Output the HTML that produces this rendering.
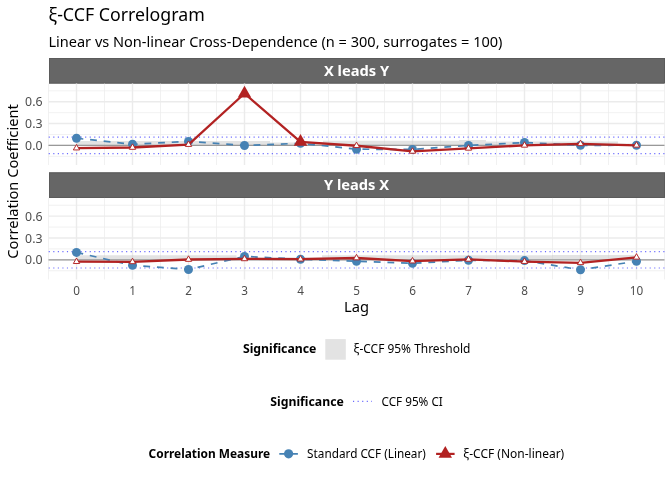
<!DOCTYPE html>
<html><head><meta charset="utf-8"><title>ξ-CCF Correlogram</title>
<style>html,body{margin:0;padding:0;background:#fff;width:672px;height:480px;overflow:hidden}svg{display:block}</style>
</head><body>
<svg width="672" height="480" viewBox="0 0 672 480" font-family="Noto Sans, Liberation Sans, sans-serif">
<rect width="672" height="480" fill="#fff"/>
<text textLength="156.27" lengthAdjust="spacingAndGlyphs" id="t_title" x="48.46" y="20.6" font-size="17.6" fill="#000">ξ-CCF Correlogram</text>
<text textLength="454.07" lengthAdjust="spacingAndGlyphs" id="t_sub" x="48.41" y="46.8" font-size="14.67" fill="#000">Linear vs Non-linear Cross-Dependence (n = 300, surrogates = 100)</text>
<rect x="49" y="58.0" width="616" height="25.55" fill="#666666"/>
<rect x="49.5" y="58.5" width="615" height="24.55" fill="none" stroke="#5B5B5B" stroke-width="1"/>
<text x="356.5" y="75.97500000000001" font-size="14.67" font-weight="bold" fill="#fff" text-anchor="middle" textLength="65.14" lengthAdjust="spacingAndGlyphs">X leads Y</text>
<path d="M48.5 156.33H664.5 M48.5 134.49H664.5 M48.5 112.66H664.5 M48.5 90.83H664.5 M48.50 83.55V165.0 M104.50 83.55V165.0 M160.50 83.55V165.0 M216.50 83.55V165.0 M272.50 83.55V165.0 M328.50 83.55V165.0 M384.50 83.55V165.0 M440.50 83.55V165.0 M496.50 83.55V165.0 M552.50 83.55V165.0 M608.50 83.55V165.0 M664.50 83.55V165.0" stroke="#EBEBEB" stroke-width="0.71" fill="none"/>
<path d="M48.5 145.41H664.5 M48.5 123.58H664.5 M48.5 101.75H664.5 M76.50 83.55V165.0 M132.50 83.55V165.0 M188.50 83.55V165.0 M244.50 83.55V165.0 M300.50 83.55V165.0 M356.50 83.55V165.0 M412.50 83.55V165.0 M468.50 83.55V165.0 M524.50 83.55V165.0 M580.50 83.55V165.0 M636.50 83.55V165.0" stroke="#EBEBEB" stroke-width="1.42" fill="none"/>
<polygon points="76.50,140.90 270.00,140.90 270.00,142.60 323.00,142.60 323.00,140.80 459.00,140.80 459.00,140.00 486.00,140.00 486.00,141.40 618.00,141.40 618.00,143.50 636.50,143.50 636.5,145.41 76.5,145.41" fill="#BEBEBE" fill-opacity="0.43"/>
<path d="M48.5 145.41H664.5" stroke="#999999" stroke-width="1.2"/>
<path d="M48.5 137.17H664.5" stroke="#5050FF" stroke-opacity="0.85" stroke-width="1.14" stroke-dasharray="1.138 3.4146" stroke-dashoffset="-0.2"/>
<path d="M48.5 153.65H664.5" stroke="#5050FF" stroke-opacity="0.85" stroke-width="1.14" stroke-dasharray="1.138 3.4146" stroke-dashoffset="-0.2"/>
<polyline points="76.50,138.25 132.50,144.30 188.50,141.40 244.50,145.45 300.50,143.25 356.50,149.20 412.50,149.40 468.50,145.50 524.50,142.50 580.50,145.30 636.50,145.25" fill="none" stroke="#4682B4" stroke-width="1.71" stroke-dasharray="6.83 6.83"/>
<circle cx="76.50" cy="138.25" r="4.5" fill="#4682B4"/>
<circle cx="132.50" cy="144.30" r="4.5" fill="#4682B4"/>
<circle cx="188.50" cy="141.40" r="4.5" fill="#4682B4"/>
<circle cx="244.50" cy="145.45" r="4.5" fill="#4682B4"/>
<circle cx="300.50" cy="143.25" r="4.5" fill="#4682B4"/>
<circle cx="356.50" cy="149.20" r="4.5" fill="#4682B4"/>
<circle cx="412.50" cy="149.40" r="4.5" fill="#4682B4"/>
<circle cx="468.50" cy="145.50" r="4.5" fill="#4682B4"/>
<circle cx="524.50" cy="142.50" r="4.5" fill="#4682B4"/>
<circle cx="580.50" cy="145.30" r="4.5" fill="#4682B4"/>
<circle cx="636.50" cy="145.25" r="4.5" fill="#4682B4"/>
<polyline points="76.50,148.10 132.50,147.50 188.50,144.60 244.50,93.50 300.50,141.90 356.50,145.75 412.50,151.40 468.50,148.35 524.50,145.35 580.50,143.80 636.50,145.30" fill="none" stroke="#B22222" stroke-width="2.3" stroke-linejoin="round"/>
<polygon points="76.50,144.45 79.66,149.93 73.34,149.93" fill="#fff" stroke="#B22222" stroke-width="0.95" stroke-linejoin="miter"/>
<polygon points="132.50,143.85 135.66,149.33 129.34,149.33" fill="#fff" stroke="#B22222" stroke-width="0.95" stroke-linejoin="miter"/>
<polygon points="188.50,140.95 191.66,146.43 185.34,146.43" fill="#fff" stroke="#B22222" stroke-width="0.95" stroke-linejoin="miter"/>
<polygon points="244.50,85.72 251.23,97.39 237.77,97.39" fill="#B22222"/>
<polygon points="300.50,134.12 307.23,145.79 293.77,145.79" fill="#B22222"/>
<polygon points="356.50,142.10 359.66,147.58 353.34,147.58" fill="#fff" stroke="#B22222" stroke-width="0.95" stroke-linejoin="miter"/>
<polygon points="412.50,147.75 415.66,153.23 409.34,153.23" fill="#fff" stroke="#B22222" stroke-width="0.95" stroke-linejoin="miter"/>
<polygon points="468.50,144.70 471.66,150.18 465.34,150.18" fill="#fff" stroke="#B22222" stroke-width="0.95" stroke-linejoin="miter"/>
<polygon points="524.50,141.70 527.66,147.18 521.34,147.18" fill="#fff" stroke="#B22222" stroke-width="0.95" stroke-linejoin="miter"/>
<polygon points="580.50,140.15 583.66,145.63 577.34,145.63" fill="#fff" stroke="#B22222" stroke-width="0.95" stroke-linejoin="miter"/>
<polygon points="636.50,141.65 639.66,147.13 633.34,147.13" fill="#fff" stroke="#B22222" stroke-width="0.95" stroke-linejoin="miter"/>
<text x="42.5" y="150.01" font-size="11.73" fill="#4D4D4D" text-anchor="end" textLength="17.4" lengthAdjust="spacingAndGlyphs">0.0</text>
<text x="42.5" y="128.18" font-size="11.73" fill="#4D4D4D" text-anchor="end" textLength="17.4" lengthAdjust="spacingAndGlyphs">0.3</text>
<text x="42.5" y="106.35" font-size="11.73" fill="#4D4D4D" text-anchor="end" textLength="17.4" lengthAdjust="spacingAndGlyphs">0.6</text>
<rect x="49" y="172.4" width="616" height="25.55" fill="#666666"/>
<rect x="49.5" y="172.9" width="615" height="24.55" fill="none" stroke="#5B5B5B" stroke-width="1"/>
<text x="356.5" y="190.375" font-size="14.67" font-weight="bold" fill="#fff" text-anchor="middle" textLength="65.14" lengthAdjust="spacingAndGlyphs">Y leads X</text>
<path d="M48.5 270.73H664.5 M48.5 248.89H664.5 M48.5 227.06H664.5 M48.5 205.23H664.5 M48.50 197.95000000000002V279.40000000000003 M104.50 197.95000000000002V279.40000000000003 M160.50 197.95000000000002V279.40000000000003 M216.50 197.95000000000002V279.40000000000003 M272.50 197.95000000000002V279.40000000000003 M328.50 197.95000000000002V279.40000000000003 M384.50 197.95000000000002V279.40000000000003 M440.50 197.95000000000002V279.40000000000003 M496.50 197.95000000000002V279.40000000000003 M552.50 197.95000000000002V279.40000000000003 M608.50 197.95000000000002V279.40000000000003 M664.50 197.95000000000002V279.40000000000003" stroke="#EBEBEB" stroke-width="0.71" fill="none"/>
<path d="M48.5 259.81H664.5 M48.5 237.98H664.5 M48.5 216.15H664.5 M76.50 197.95000000000002V279.40000000000003 M132.50 197.95000000000002V279.40000000000003 M188.50 197.95000000000002V279.40000000000003 M244.50 197.95000000000002V279.40000000000003 M300.50 197.95000000000002V279.40000000000003 M356.50 197.95000000000002V279.40000000000003 M412.50 197.95000000000002V279.40000000000003 M468.50 197.95000000000002V279.40000000000003 M524.50 197.95000000000002V279.40000000000003 M580.50 197.95000000000002V279.40000000000003 M636.50 197.95000000000002V279.40000000000003" stroke="#EBEBEB" stroke-width="1.42" fill="none"/>
<polygon points="76.50,255.20 236.50,255.20 236.50,257.50 322.00,257.50 322.00,255.30 552.00,255.30 552.00,255.00 636.50,255.00 636.5,259.81 76.5,259.81" fill="#BEBEBE" fill-opacity="0.43"/>
<path d="M48.5 259.81H664.5" stroke="#999999" stroke-width="1.2"/>
<path d="M48.5 251.57H664.5" stroke="#5050FF" stroke-opacity="0.85" stroke-width="1.14" stroke-dasharray="1.138 3.4146" stroke-dashoffset="-0.2"/>
<path d="M48.5 268.05H664.5" stroke="#5050FF" stroke-opacity="0.85" stroke-width="1.14" stroke-dasharray="1.138 3.4146" stroke-dashoffset="-0.2"/>
<polyline points="76.50,252.40 132.50,265.30 188.50,269.50 244.50,256.40 300.50,259.25 356.50,261.25 412.50,263.25 468.50,260.30 524.50,260.60 580.50,269.80 636.50,261.25" fill="none" stroke="#4682B4" stroke-width="1.71" stroke-dasharray="6.83 6.83"/>
<circle cx="76.50" cy="252.40" r="4.5" fill="#4682B4"/>
<circle cx="132.50" cy="265.30" r="4.5" fill="#4682B4"/>
<circle cx="188.50" cy="269.50" r="4.5" fill="#4682B4"/>
<circle cx="244.50" cy="256.40" r="4.5" fill="#4682B4"/>
<circle cx="300.50" cy="259.25" r="4.5" fill="#4682B4"/>
<circle cx="356.50" cy="261.25" r="4.5" fill="#4682B4"/>
<circle cx="412.50" cy="263.25" r="4.5" fill="#4682B4"/>
<circle cx="468.50" cy="260.30" r="4.5" fill="#4682B4"/>
<circle cx="524.50" cy="260.60" r="4.5" fill="#4682B4"/>
<circle cx="580.50" cy="269.80" r="4.5" fill="#4682B4"/>
<circle cx="636.50" cy="261.25" r="4.5" fill="#4682B4"/>
<polyline points="76.50,261.70 132.50,261.85 188.50,259.50 244.50,258.90 300.50,259.20 356.50,258.00 412.50,261.10 468.50,259.40 524.50,261.60 580.50,262.80 636.50,257.30" fill="none" stroke="#B22222" stroke-width="2.3" stroke-linejoin="round"/>
<polygon points="76.50,258.05 79.66,263.53 73.34,263.53" fill="#fff" stroke="#B22222" stroke-width="0.95" stroke-linejoin="miter"/>
<polygon points="132.50,258.20 135.66,263.68 129.34,263.68" fill="#fff" stroke="#B22222" stroke-width="0.95" stroke-linejoin="miter"/>
<polygon points="188.50,255.85 191.66,261.33 185.34,261.33" fill="#fff" stroke="#B22222" stroke-width="0.95" stroke-linejoin="miter"/>
<polygon points="244.50,255.25 247.66,260.73 241.34,260.73" fill="#fff" stroke="#B22222" stroke-width="0.95" stroke-linejoin="miter"/>
<polygon points="300.50,255.55 303.66,261.03 297.34,261.03" fill="#fff" stroke="#B22222" stroke-width="0.95" stroke-linejoin="miter"/>
<polygon points="356.50,254.35 359.66,259.83 353.34,259.83" fill="#fff" stroke="#B22222" stroke-width="0.95" stroke-linejoin="miter"/>
<polygon points="412.50,257.45 415.66,262.93 409.34,262.93" fill="#fff" stroke="#B22222" stroke-width="0.95" stroke-linejoin="miter"/>
<polygon points="468.50,255.75 471.66,261.23 465.34,261.23" fill="#fff" stroke="#B22222" stroke-width="0.95" stroke-linejoin="miter"/>
<polygon points="524.50,257.95 527.66,263.43 521.34,263.43" fill="#fff" stroke="#B22222" stroke-width="0.95" stroke-linejoin="miter"/>
<polygon points="580.50,259.15 583.66,264.63 577.34,264.63" fill="#fff" stroke="#B22222" stroke-width="0.95" stroke-linejoin="miter"/>
<polygon points="636.50,253.65 639.66,259.13 633.34,259.13" fill="#fff" stroke="#B22222" stroke-width="0.95" stroke-linejoin="miter"/>
<text x="42.5" y="264.41" font-size="11.73" fill="#4D4D4D" text-anchor="end" textLength="17.4" lengthAdjust="spacingAndGlyphs">0.0</text>
<text x="42.5" y="242.58" font-size="11.73" fill="#4D4D4D" text-anchor="end" textLength="17.4" lengthAdjust="spacingAndGlyphs">0.3</text>
<text x="42.5" y="220.75" font-size="11.73" fill="#4D4D4D" text-anchor="end" textLength="17.4" lengthAdjust="spacingAndGlyphs">0.6</text>
<text x="76.50" y="294.9" font-size="11.73" fill="#4D4D4D" text-anchor="middle" textLength="6.70" lengthAdjust="spacingAndGlyphs">0</text>
<text x="132.50" y="294.9" font-size="11.73" fill="#4D4D4D" text-anchor="middle" textLength="6.70" lengthAdjust="spacingAndGlyphs">1</text>
<text x="188.50" y="294.9" font-size="11.73" fill="#4D4D4D" text-anchor="middle" textLength="6.70" lengthAdjust="spacingAndGlyphs">2</text>
<text x="244.50" y="294.9" font-size="11.73" fill="#4D4D4D" text-anchor="middle" textLength="6.70" lengthAdjust="spacingAndGlyphs">3</text>
<text x="300.50" y="294.9" font-size="11.73" fill="#4D4D4D" text-anchor="middle" textLength="6.70" lengthAdjust="spacingAndGlyphs">4</text>
<text x="356.50" y="294.9" font-size="11.73" fill="#4D4D4D" text-anchor="middle" textLength="6.70" lengthAdjust="spacingAndGlyphs">5</text>
<text x="412.50" y="294.9" font-size="11.73" fill="#4D4D4D" text-anchor="middle" textLength="6.70" lengthAdjust="spacingAndGlyphs">6</text>
<text x="468.50" y="294.9" font-size="11.73" fill="#4D4D4D" text-anchor="middle" textLength="6.70" lengthAdjust="spacingAndGlyphs">7</text>
<text x="524.50" y="294.9" font-size="11.73" fill="#4D4D4D" text-anchor="middle" textLength="6.70" lengthAdjust="spacingAndGlyphs">8</text>
<text x="580.50" y="294.9" font-size="11.73" fill="#4D4D4D" text-anchor="middle" textLength="6.70" lengthAdjust="spacingAndGlyphs">9</text>
<text x="636.50" y="294.9" font-size="11.73" fill="#4D4D4D" text-anchor="middle" textLength="13.40" lengthAdjust="spacingAndGlyphs">10</text>
<text x="356.5" y="311.9" font-size="14.67" fill="#000" text-anchor="middle" textLength="24.92" lengthAdjust="spacingAndGlyphs">Lag</text>
<text transform="translate(17.8 181.48) rotate(-90)" font-size="14.67" fill="#000" text-anchor="middle" textLength="154.4" lengthAdjust="spacingAndGlyphs">Correlation Coefficient</text>
<text textLength="73.55" lengthAdjust="spacingAndGlyphs" id="t_l1t" x="242.90" y="353.4" font-size="12" font-weight="bold" fill="#000">Significance</text>
<rect x="325.3" y="339.1" width="20.5" height="20.6" fill="#E3E3E3"/>
<text textLength="116.70" lengthAdjust="spacingAndGlyphs" id="t_l1x" x="353.62" y="352.7" font-size="11.73" fill="#000">ξ-CCF 95% Threshold</text>
<text textLength="73.47" lengthAdjust="spacingAndGlyphs" id="t_l2t" x="270.32" y="405.9" font-size="12" font-weight="bold" fill="#000">Significance</text>
<path d="M353 401.4H372" stroke="#5050FF" stroke-opacity="0.85" stroke-width="1.15" stroke-dasharray="1.15 3.43"/>
<text id="t_l2x" x="381.5" y="405.9" font-size="11.73" fill="#000" textLength="61.28" lengthAdjust="spacingAndGlyphs">CCF 95% CI</text>
<text textLength="121.54" lengthAdjust="spacingAndGlyphs" id="t_l3t" x="148.58" y="457.9" font-size="12" font-weight="bold" fill="#000">Correlation Measure</text>
<path d="M279.3 453.8H297.9" stroke="#4682B4" stroke-width="1.71" stroke-dasharray="6.83 6.83"/>
<circle cx="288.6" cy="453.8" r="4.6" fill="#4682B4"/>
<text textLength="118.68" lengthAdjust="spacingAndGlyphs" id="t_l3a" x="307.14" y="457.9" font-size="11.73" fill="#000">Standard CCF (Linear)</text>
<path d="M436.1 453.9H454.6" stroke="#B22222" stroke-width="2.2"/>
<polygon points="445.30,446.12 452.03,457.79 438.57,457.79" fill="#B22222"/>
<text textLength="100.91" lengthAdjust="spacingAndGlyphs" id="t_l3b" x="463.31" y="457.9" font-size="11.73" fill="#000">ξ-CCF (Non-linear)</text>
</svg>
</body></html>
